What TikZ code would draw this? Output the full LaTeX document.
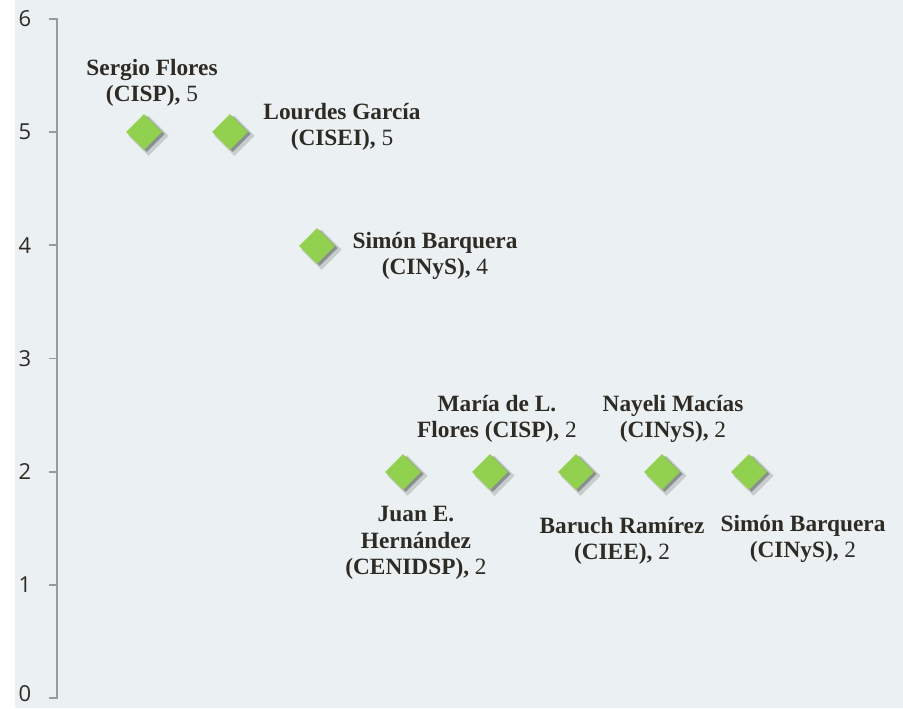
\documentclass[tikz,border=0pt]{standalone}
\usepackage{fontspec}
\setmainfont{Liberation Serif}
\newfontfamily\axisfont{Open Sans}
\usetikzlibrary{shapes.geometric,shadows}
\definecolor{bgcol}{HTML}{EBF1F2}
\definecolor{mkgreen}{HTML}{92D050}
\definecolor{txtcol}{HTML}{2E2A24}
\definecolor{axcol}{HTML}{9A9A9A}

\begin{document}
\begin{tikzpicture}[x=0.75pt,y=-0.75pt,
	mk/.style={diamond,fill=mkgreen,minimum width=27pt,minimum height=27pt,inner sep=0pt,
		drop shadow={shadow xshift=3pt,shadow yshift=-2.5pt,shadow scale=1.12,opacity=0.15,fill=black},
		drop shadow={shadow xshift=2pt,shadow yshift=-1.5pt,opacity=0.3,fill=black}},
	lab/.style={align=center,text=txtcol,font=\fontsize{17.5}{20}\selectfont,inner sep=0pt},
	tk/.style={text=txtcol,font=\axisfont\fontsize{16.5}{18}\selectfont,inner sep=0pt}]

\useasboundingbox (0,0) rectangle (903,708);
\fill[bgcol] (15,0) rectangle (903,708);

% axis
\draw[axcol,line width=1.4pt] (49,19) -- (57,19) -- (57,698) -- (49,698);
\foreach \v in {1,...,6}{
	\draw[axcol,line width=1.4pt] (49,698-113.17*\v) -- (57,698-113.17*\v);
	\node[tk] (t\v) at (25,698-113.17*\v) {\v};
}
\node[tk] (t0) at (25,694) {0};

% points
\foreach[count=\c] \x/\y in {144/132,230/132,317/246,403/472,490/472,576/472,662/472,749/472}{
	\node[mk] (p\c) at (\x,\y) {};
}

% labels
\node[lab] (l1) at (152,83) {\textbf{Sergio Flores}\\\textbf{(CISP),} 5};
\node[lab] (l2) at (342,127) {\textbf{Lourdes García}\\\textbf{(CISEI),} 5};
\node[lab] (l3) at (435,256) {\textbf{Simón Barquera}\\\textbf{(CINyS),} 4};
\node[lab] (l4) at (416,543) {\textbf{Juan E.}\\\textbf{Hernández}\\\textbf{(CENIDSP),} 2};
\node[lab] (l5) at (497,419) {\textbf{María de L.}\\\textbf{Flores (CISP),} 2};
\node[lab] (l6) at (622,541) {\textbf{Baruch Ramírez}\\\textbf{(CIEE),} 2};
\node[lab] (l7) at (673,419) {\textbf{Nayeli Macías}\\\textbf{(CINyS),} 2};
\node[lab] (l8) at (803,539) {\textbf{Simón Barquera}\\\textbf{(CINyS),} 2};

\end{tikzpicture}
\end{document}
